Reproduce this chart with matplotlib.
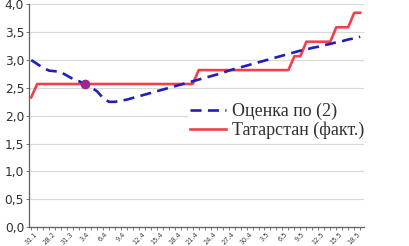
import matplotlib
matplotlib.use("Agg")
from matplotlib import pyplot as plt

# x categories (dates) - label shown every 3rd point
tick_labels = ['31.1', '28.2', '31.3', '3.4', '6.4', '9.4', '12.4', '15.4', '18.4',
               '21.4', '24.4', '27.4', '30.4', '3.5', '6.5', '9.5', '12.5', '15.5', '18.5']

# Оценка по (2)
estimate = [3.00, 2.93, 2.86, 2.81, 2.80, 2.78, 2.72, 2.66, 2.62, 2.57,
            2.51, 2.44, 2.32, 2.25, 2.25, 2.27, 2.29, 2.32, 2.35, 2.38,
            2.41, 2.44, 2.47, 2.50, 2.53, 2.56, 2.59, 2.62, 2.65, 2.68,
            2.71, 2.74, 2.77, 2.81, 2.84, 2.87, 2.90, 2.93, 2.96, 2.99,
            3.02, 3.05, 3.08, 3.11, 3.14, 3.17, 3.19, 3.22, 3.24, 3.27,
            3.29, 3.32, 3.34, 3.37, 3.39, 3.42]

# Татарстан (факт.)
tatarstan = [2.33] + [2.57] * 27 + [2.82] * 16 + [3.07] * 2 + [3.33] * 5 + [3.59] * 3 + [3.85] * 2

marker_idx = 9
marker_val = 2.57

x = list(range(len(estimate)))

fig = plt.figure(figsize=(4.1, 2.46), dpi=100)
ax = fig.add_axes([0.071, 0.077, 0.817, 0.905])

ax.plot(x, estimate, color='#2020b8', lw=1.9, dashes=(4.2, 2.4), label='Оценка по (2)', zorder=3)
ax.plot(x, tatarstan, color='#f0404c', lw=1.9, label='Татарстан (факт.)', zorder=2)
ax.plot([marker_idx], [marker_val], 'o', color='#a0288c', ms=6, zorder=4)

ax.set_ylim(0, 4.0)
ax.set_xlim(-0.35, len(x) - 0.35)
ax.set_yticks([i * 0.5 for i in range(9)])
ax.set_yticklabels([('%.1f' % (i * 0.5)).replace('.', ',') for i in range(9)],
                   fontsize=8.8, color='#303030')
ax.set_xticks(x[::3])
ax.set_xticklabels(tick_labels, fontsize=4.8, rotation=45, color='#404040')
ax.set_xticks(x, minor=True)
ax.tick_params(axis='x', which='both', direction='out', length=2, width=0.6, color='#606060', pad=1)
ax.tick_params(axis='y', direction='out', length=2, width=0.6, color='#606060', pad=1.5)

ax.grid(axis='y', color='#d9d9d9', lw=0.9)
ax.set_axisbelow(True)
for s in ['top', 'right']:
    ax.spines[s].set_visible(False)
for s in ['left', 'bottom']:
    ax.spines[s].set_color('#606060')
    ax.spines[s].set_linewidth(0.9)

leg = ax.legend(loc='upper left', bbox_to_anchor=(0.436, 0.625), bbox_transform=fig.transFigure,
                prop={'family': 'Liberation Serif', 'size': 13},
                frameon=True, facecolor='white', edgecolor='none', framealpha=1,
                handlelength=2.0, handletextpad=0.33, labelspacing=0.08, borderpad=0.1)
for t in leg.get_texts():
    t.set_color('#303030')

fig.savefig('out.png', dpi=100)
